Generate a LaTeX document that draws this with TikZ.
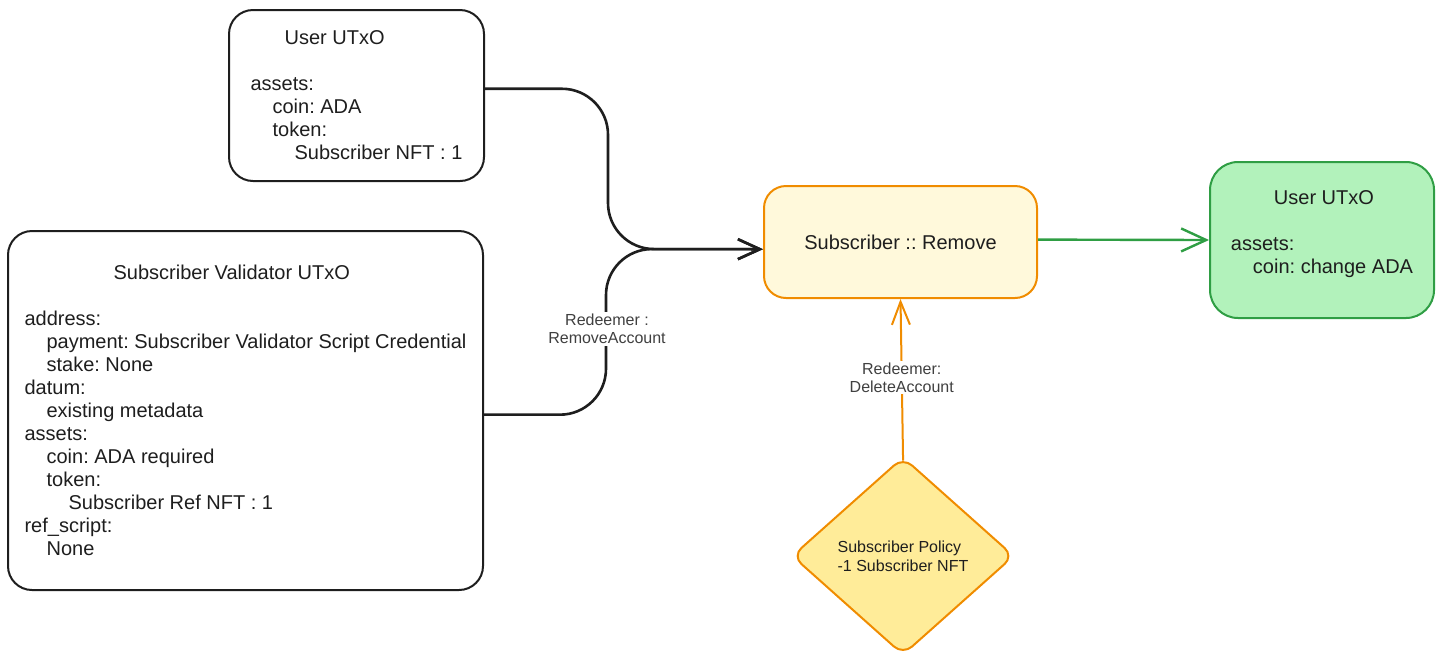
\documentclass[tikz,border=0pt]{standalone}
\usepackage{fontspec}
\setmainfont{Liberation Sans}
\usetikzlibrary{arrows.meta}
\usetikzlibrary{positioning}
\usetikzlibrary{shapes.geometric}

\definecolor{ink}{HTML}{1E1E1E}
\definecolor{orng}{HTML}{F08C00}
\definecolor{paleyel}{HTML}{FFF9DB}
\definecolor{yel}{HTML}{FFEC99}
\definecolor{grn}{HTML}{2F9E44}
\definecolor{palegrn}{HTML}{B2F2BB}
\newcommand{\ind}{\hspace*{11pt}}
\frenchspacing

\begin{document}
\begin{tikzpicture}[x=0.5pt,y=-0.5pt,
	utxo/.style={draw=ink,line width=1pt,rounded corners=12pt,align=left,text=ink,inner sep=0pt,font=\fontsize{10}{11.5}\selectfont},
	lbl/.style={fill=white,inner sep=1pt,align=center,text=ink!85,font=\fontsize{8}{9}\selectfont},
	flow/.style={draw=ink,line width=1.3pt,rounded corners=23pt,-{Straight Barb[length=11pt,width=10pt]}}]
		\useasboundingbox (0,0) rectangle (1443,665);
		% inputs
		\node[utxo,minimum width=127.5pt,minimum height=85.5pt] (user) at (356.5,95.5)
		{\hspace*{17pt}User UTxO\\~\\assets:\\\ind coin: ADA\\\ind token:\\\ind\ind Subscriber NFT : 1};
		\node[utxo,minimum width=237.5pt,minimum height=179.5pt] (val) at (245.5,410.5)
		{\hspace*{44.5pt}Subscriber Validator UTxO\\~\\address:\\\ind payment: Subscriber Validator Script Credential\\\ind stake: None\\datum:\\\ind existing metadata\\assets:\\\ind coin: ADA required\\\ind token:\\\ind\ind Subscriber Ref NFT : 1\\ref\_script:\\\ind None};
		% transaction
		\node[utxo,draw=orng,fill=paleyel,minimum width=136.5pt,minimum height=56pt,rounded corners=11pt] (rem) at (900.5,242) {Subscriber :: Remove};
		\node[utxo,draw=grn,fill=palegrn,minimum width=112pt,minimum height=78pt,rounded corners=14pt] (out) at (1322,240)
		{\hspace*{21.5pt}User UTxO\\~\\assets:\\\ind coin: change ADA\\[-4pt]~};
		\node[diamond,draw=orng,fill=yel,line width=1pt,rounded corners=6pt,minimum width=111pt,minimum height=99pt,inner sep=0pt,align=left,text=ink,font=\fontsize{8}{9.5}\selectfont] (pol) at (903,556)
		{Subscriber Policy\\-1 Subscriber NFT};
		% connectors
		\coordinate (j1) at (608,249);
		\coordinate (j2) at (606,249);
		\draw[flow] (user.3) -| (j1) -- (rem.183);
		\draw[flow] (val.-1) -| (j2) -- (rem.183);
		\node[lbl] (redA) at (607,329) {Redeemer :\\RemoveAccount};
		\draw[draw=grn,line width=1.2pt,-{Straight Barb[length=12.5pt,width=11.5pt]}] (rem.1) -- (out.west);
		\draw[draw=orng,line width=1pt,shorten <=-2.3pt,-{Straight Barb[length=11.5pt,width=9pt]}] (pol.north) -- node[lbl] (redD) {Redeemer:\\DeleteAccount} (rem.south);
	\end{tikzpicture}
\end{document}
